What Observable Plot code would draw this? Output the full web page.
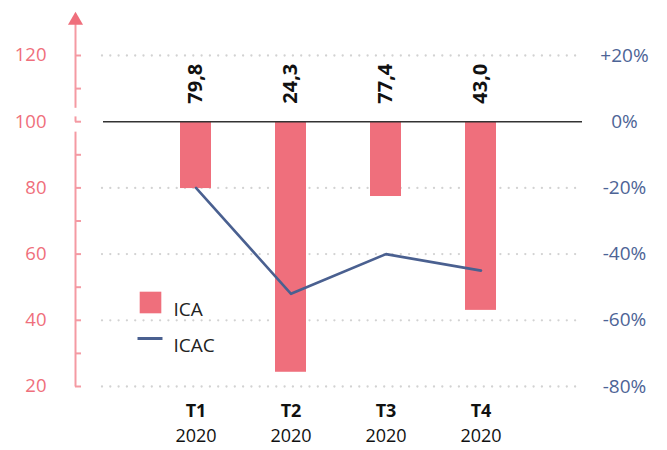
<!DOCTYPE html>
<html><head><meta charset="utf-8">
<script src="https://cdn.jsdelivr.net/npm/d3@7"></script>
<script src="https://cdn.jsdelivr.net/npm/@observablehq/plot@0.6"></script>
<style>
body{margin:0;background:#fff;}
svg{font-family:"Open Sans",sans-serif;}
</style>
</head><body><div id="chart"></div>
<script>
const categories = ["T1", "T2", "T3", "T4"];
const years = ["2020", "2020", "2020", "2020"];
const icaValues = [79.8, 24.3, 77.4, 43.0];
const icacValues = [-20, -52, -40, -45]; // percent change
const leftTicks = [20, 40, 60, 80, 100, 120];
const minorTicks = [20, 30, 40, 50, 60, 70, 80, 90, 100, 110, 120];
const gridValues = [120, 80, 60, 40, 20];
const base = 100;
const legendLabels = ["ICA", "ICAC"];

const rows = categories.map((c, i) => ({cat: c, year: years[i], ica: icaValues[i], icac: base + icacValues[i]}));

const PINK = "#ef6f7c", AXISPINK = "#f49aa3", BLUE = "#4a6090";
const fmt = v => v.toFixed(1).replace(".", ",");
const pct = v => { const p = v - base; return (p > 0 ? "+" : p < 0 ? "-" : "") + Math.abs(p) + "%"; };

const axisSegs = [
  {cat: categories[0], a: 20, b: 97},
  {cat: categories[0], a: 100, b: 101.6},
  {cat: categories[0], a: 104.2, b: 131}
];
const AXDX = -120.5;
const lineSymbol = {draw(ctx) { ctx.moveTo(-12.5, 0); ctx.lineTo(12.5, 0); }};

const chart = Plot.plot({
  width: 667,
  height: 450,
  marginTop: 55,
  marginBottom: 64,
  marginLeft: 75,
  marginRight: 85,
  style: {fontFamily: "'Open Sans', sans-serif", background: "#fff"},
  x: {domain: categories, range: [148, 528], paddingInner: 0.674, paddingOuter: 0.337, axis: null},
  y: {domain: [20, 120], label: null},
  marks: [
    Plot.ruleY(gridValues, {stroke: "#d2d2d2", strokeWidth: 2.3, strokeDasharray: "0,8.3", strokeLinecap: "round", insetLeft: 27, insetRight: 2}),
    Plot.barY(rows, {x: "cat", y1: () => base, y2: "ica", fill: PINK}),
    Plot.ruleY([base], {stroke: "#333", strokeWidth: 1.6, insetLeft: 28}),
    Plot.lineY(rows, {x: "cat", y: "icac", stroke: BLUE, strokeWidth: 2.6}),
    // left axis line with break and arrow
    Plot.link(axisSegs, {x1: "cat", x2: "cat", y1: "a", y2: "b", stroke: AXISPINK, strokeWidth: 2, dx: AXDX}),
    Plot.dot([axisSegs[2]], {x: "cat", y: () => 130.6, symbol: "triangle", r: 5.6, fill: PINK, stroke: "none", dx: AXDX}),
    Plot.axisY(minorTicks, {anchor: "left", tickSize: 6, dx: 6, tickFormat: () => "", stroke: AXISPINK, strokeWidth: 2, label: null}),
    Plot.axisY(leftTicks, {anchor: "left", tickSize: 0, tickPadding: 29, fill: PINK, fontSize: 18.5, label: null}),
    Plot.axisY(leftTicks, {anchor: "right", tickSize: 0, tickPadding: 42, textAnchor: "middle", tickFormat: pct, fill: "#4d6496", fontSize: 19, label: null}),
    // value labels
    Plot.text(rows, {x: "cat", y: () => base, text: d => fmt(d.ica), rotate: -90, textAnchor: "start", lineAnchor: "middle", dy: -18, fontSize: 20, fontWeight: "bold", fill: "#111"}),
    // category labels
    Plot.text(rows, {x: "cat", frameAnchor: "bottom", text: "cat", dy: 30, fontSize: 18, fontWeight: "bold", fill: "#111"}),
    Plot.text(rows, {x: "cat", frameAnchor: "bottom", text: "year", dy: 55, fontSize: 18, fill: "#111"}),
    // legend
    Plot.dot([legendLabels[0]], {frameAnchor: "top-left", dx: 75, dy: 247, symbol: "square", r: 12.2, fill: PINK, stroke: "none"}),
    Plot.dot([legendLabels[1]], {frameAnchor: "top-left", dx: 74.5, dy: 283, symbol: lineSymbol, r: 5, fill: "none", stroke: BLUE, strokeWidth: 3}),
    Plot.text([legendLabels[0]], {frameAnchor: "top-left", dx: 98, dy: 247, text: d => d, textAnchor: "start", fontSize: 19, fill: "#222"}),
    Plot.text([legendLabels[1]], {frameAnchor: "top-left", dx: 98, dy: 283, text: d => d, textAnchor: "start", fontSize: 19, fill: "#222"})
  ]
});
document.getElementById("chart").appendChild(chart);
</script>
</body></html>
